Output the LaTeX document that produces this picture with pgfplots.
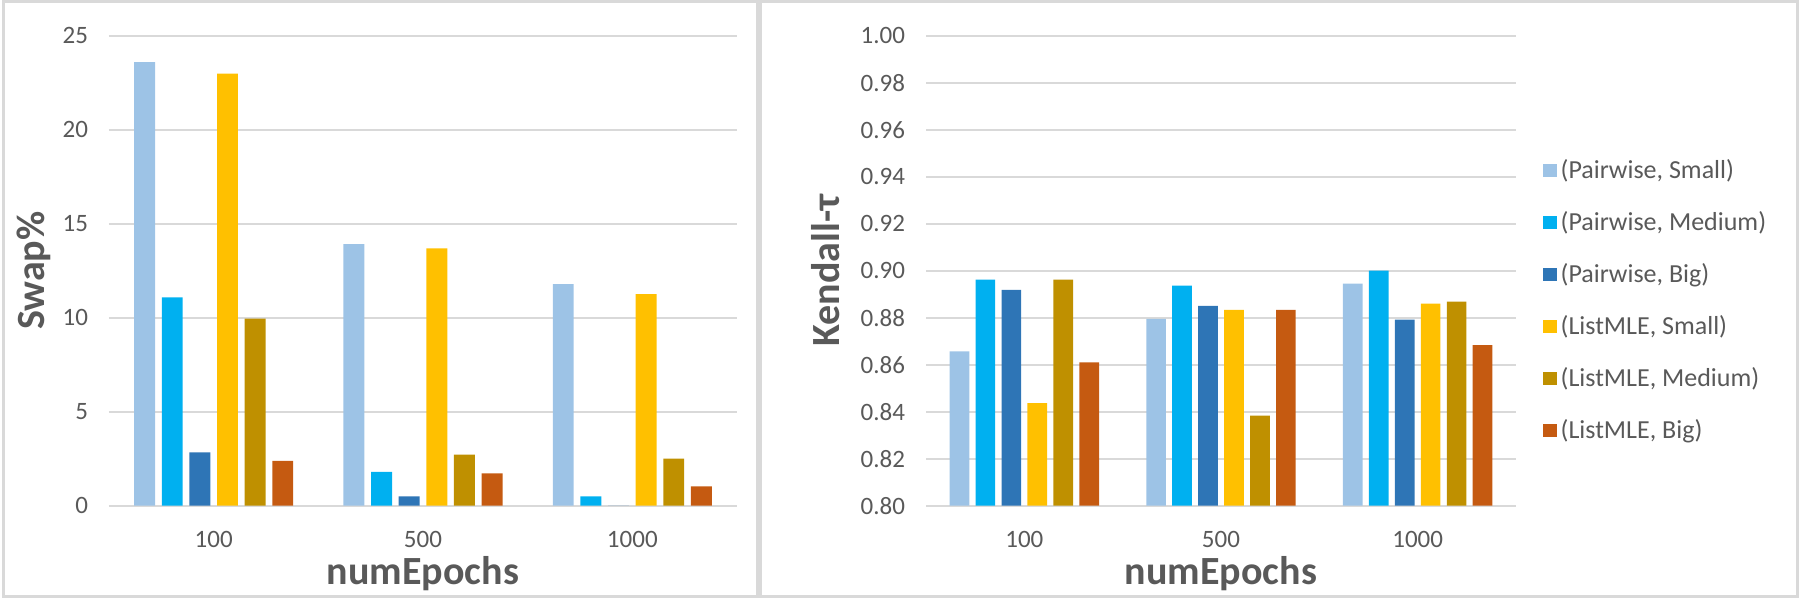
\documentclass[border=0pt]{standalone}
\usepackage{pgfplots}
\pgfplotsset{compat=1.18}
\usepackage{fontspec}
\setmainfont{Carlito}
\definecolor{cPS}{HTML}{9DC3E6}
\definecolor{cPM}{HTML}{00B0F0}
\definecolor{cPB}{HTML}{2E75B6}
\definecolor{cLS}{HTML}{FFC000}
\definecolor{cLM}{HTML}{BF9000}
\definecolor{cLB}{HTML}{C55A11}
\definecolor{txt}{HTML}{595959}
\definecolor{grd}{HTML}{D9D9D9}
\definecolor{frm}{HTML}{D9D9D9}
\pgfplotsset{
  mystyle/.style={
    scale only axis, height=235pt,
    ymajorgrids, grid style={grd, line width=1pt},
    axis line style={draw=none}, major tick length=0pt,
    xmin=-0.5, xmax=2.5, xtick={0,1,2}, xticklabels={100,500,1000},
    ticklabel style={font=\fontsize{12.5}{15}\selectfont, text=txt},
    /pgf/number format/assume math mode=true,
    xticklabel style={anchor=center, yshift=-17pt, inner sep=0pt},
    yticklabel style={anchor=east, xshift=-7pt},
    label style={font=\fontsize{20}{24}\selectfont\bfseries, text=txt},
    xlabel={numEpochs},
    xlabel style={at={(axis description cs:0.5,0)}, anchor=center, yshift=-33.8pt, inner sep=0pt},
    every axis plot/.append style={ybar, bar width=0.1, draw=none},
    anchor=south west,
  }
}
\begin{document}
\begin{tikzpicture}
\useasboundingbox (0,0) rectangle (900pt,300pt);
\draw[frm, line width=1.5pt] (1.5pt,1.5pt) rectangle (378.75pt,299pt);
\draw[frm, line width=1.5pt] (380.25pt,1.5pt) rectangle (898.5pt,299pt);

\begin{axis}[mystyle, at={(54.5pt,47.15pt)}, width=314pt,
  ymin=0, ymax=25, ytick={0,5,10,15,20,25},
  ylabel={Swap\%},
  ylabel style={at={(axis description cs:-0.1194,0.5)}, anchor=center}]
\addplot[fill=cPS, bar shift=-0.33]  coordinates {(0,23.6) (1,13.92) (2,11.78)};
\addplot[fill=cPM, bar shift=-0.198] coordinates {(0,11.08) (1,1.8) (2,0.5)};
\addplot[fill=cPB, bar shift=-0.066] coordinates {(0,2.84) (1,0.5) (2,0)};
\addplot[fill=cLS, bar shift=0.066]  coordinates {(0,22.98) (1,13.69) (2,11.25)};
\addplot[fill=cLM, bar shift=0.198]  coordinates {(0,9.95) (1,2.72) (2,2.5)};
\addplot[fill=cLB, bar shift=0.33]   coordinates {(0,2.38) (1,1.72) (2,1.03)};
\end{axis}

\begin{axis}[mystyle, at={(463pt,47.15pt)}, width=295pt,
  ymin=0.8, ymax=1.0, ytick={0.80,0.82,0.84,0.86,0.88,0.90,0.92,0.94,0.96,0.98,1.00},
  yticklabel style={/pgf/number format/.cd, fixed, fixed zerofill, precision=2},
  ylabel={Kendall-τ},
  ylabel style={at={(axis description cs:-0.1695,0.5)}, anchor=center},
  legend style={at={(1.0458,0.4364)}, anchor=west, draw=none, fill=none,
    font=\fontsize{13}{15.6}\selectfont, text=txt, row sep=11pt, inner sep=0pt},
  legend cell align=left,
  legend image code/.code={\fill[#1] (0pt,-3.3pt) rectangle (6.6pt,3.3pt);}]
\addplot[fill=cPS, bar shift=-0.33]  coordinates {(0,0.8657) (1,0.8795) (2,0.8945)};
\addlegendentry{(Pairwise, Small)}
\addplot[fill=cPM, bar shift=-0.198] coordinates {(0,0.8962) (1,0.8937) (2,0.9000)};
\addlegendentry{(Pairwise, Medium)}
\addplot[fill=cPB, bar shift=-0.066] coordinates {(0,0.8918) (1,0.8850) (2,0.8792)};
\addlegendentry{(Pairwise, Big)}
\addplot[fill=cLS, bar shift=0.066]  coordinates {(0,0.8437) (1,0.8833) (2,0.8860)};
\addlegendentry{(ListMLE, Small)}
\addplot[fill=cLM, bar shift=0.198]  coordinates {(0,0.8962) (1,0.8383) (2,0.8868)};
\addlegendentry{(ListMLE, Medium)}
\addplot[fill=cLB, bar shift=0.33]   coordinates {(0,0.8610) (1,0.8833) (2,0.8683)};
\addlegendentry{(ListMLE, Big)}
\end{axis}
\end{tikzpicture}
\end{document}
